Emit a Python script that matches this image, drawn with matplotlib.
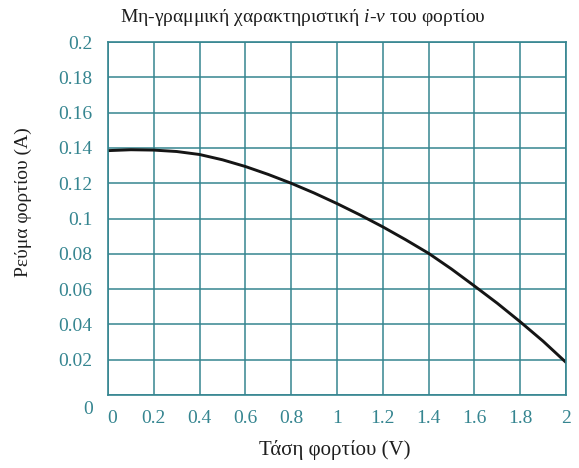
import matplotlib
matplotlib.use('Agg')
import matplotlib.pyplot as plt
import matplotlib.transforms as mtransforms

# load voltage (V) and current (A)
voltage = [0.0, 0.1, 0.2, 0.3, 0.4, 0.5, 0.6, 0.7, 0.8, 0.9, 1.0,
           1.1, 1.2, 1.3, 1.4, 1.5, 1.6, 1.7, 1.8, 1.9, 2.0]
current = [0.1385, 0.1390, 0.1388, 0.1380, 0.1363, 0.1333, 0.1295, 0.1250, 0.1200, 0.1145, 0.1085,
           0.1021, 0.0953, 0.0880, 0.0803, 0.0714, 0.0618, 0.0520, 0.0415, 0.0305, 0.0185]

x_ticks = [0, 0.2, 0.4, 0.6, 0.8, 1, 1.2, 1.4, 1.6, 1.8, 2]
x_labels = ['0', '0.2', '0.4', '0.6', '0.8', '1', '1.2', '1.4', '1.6', '1.8', '2']
y_ticks = [0, 0.02, 0.04, 0.06, 0.08, 0.1, 0.12, 0.14, 0.16, 0.18, 0.2]
y_labels = ['0', '0.02', '0.04', '0.06', '0.08', '0.1', '0.12', '0.14', '0.16', '0.18', '0.2']

plt.rcParams['font.family'] = 'Liberation Serif'
plt.rcParams['mathtext.fontset'] = 'custom'
plt.rcParams['mathtext.rm'] = 'Liberation Serif'
plt.rcParams['mathtext.it'] = 'Liberation Serif:italic'

teal = '#358590'
ink = '#1e1e1e'

fig = plt.figure(figsize=(5.79, 4.68), dpi=100)
ax = fig.add_axes([0.1865, 0.156, 0.791, 0.754])

ax.plot(voltage, current, color='#151515', linewidth=2.1, solid_capstyle='round')

ax.set_xlim(0, 2)
ax.set_ylim(0, 0.2)
ax.set_xticks(x_ticks)
ax.set_xticklabels(x_labels)
ax.set_yticks(y_ticks)
ax.set_yticklabels(y_labels)
ax.tick_params(length=0, labelsize=14, labelcolor=teal)
ax.tick_params(axis='x', pad=11)
ax.tick_params(axis='y', pad=11)
ax.grid(True, color=teal, linewidth=1.1)
for s in ax.spines.values():
    s.set_color(teal)
    s.set_linewidth(1.2)

# the zero labels sit a bit off the corner
lbl = ax.get_yticklabels()[0]
lbl.set_transform(lbl.get_transform() + mtransforms.ScaledTranslation(0, -9 / 72, fig.dpi_scale_trans))
lbl = ax.get_xticklabels()[0]
lbl.set_transform(lbl.get_transform() + mtransforms.ScaledTranslation(3 / 72, 0, fig.dpi_scale_trans))

fig.text(0.523, 0.963, 'Μη-γραμμική χαρακτηριστική $i$-$v$ του φορτίου',
         ha='center', va='center', fontsize=14, color=ink)
fig.text(0.578, 0.038, 'Τάση φορτίου (V)', ha='center', va='center', fontsize=15, color=ink)
fig.text(0.04, 0.568, 'Ρεύμα φορτίου (A)', ha='center', va='center', rotation=90,
         fontsize=14, color=ink)

plt.savefig('out.png', dpi=100)
